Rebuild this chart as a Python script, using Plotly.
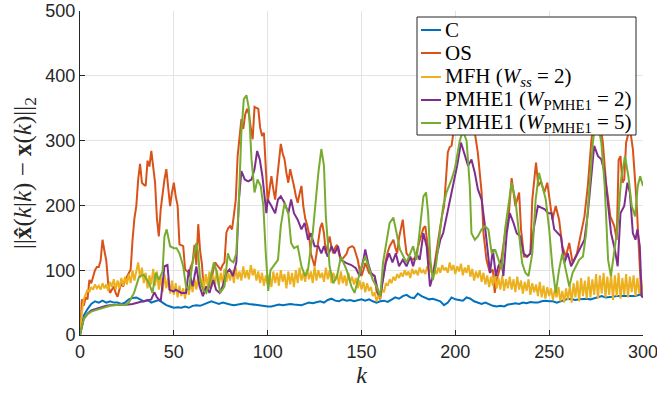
import plotly.graph_objects as go

# ---------------- data ----------------
c_k = list(range(0, 301, 2))
c_v = [0, 30, 40, 48, 52, 50, 53, 50, 52, 50, 50, 48, 50, 55, 57, 58, 55, 52, 54, 50,
       52, 54, 50, 46, 44, 42, 43, 42, 44, 42, 45, 46, 45, 47, 50, 52, 50, 48, 50, 48,
       47, 46, 47, 48, 49, 48, 47, 47, 46, 45, 44, 44, 46, 47, 46, 47, 48, 47, 47, 46,
       48, 50, 49, 50, 52, 50, 54, 56, 53, 52, 55, 53, 54, 52, 54, 55, 53, 55, 52, 50,
       52, 53, 51, 55, 58, 56, 60, 62, 58, 57, 64, 60, 58, 55, 56, 54, 52, 46, 50, 58,
       55, 54, 53, 58, 56, 52, 50, 48, 50, 47, 45, 44, 45, 44, 47, 48, 49, 48, 50, 49,
       51, 50, 50, 52, 53, 52, 52, 50, 52, 54, 56, 55, 54, 55, 56, 56, 55, 57, 58, 60,
       58, 58, 59, 60, 60, 60, 61, 60, 60, 62, 62]

os_k = [0, 1, 2, 3, 4, 5, 6, 7, 8, 9, 10, 11, 12, 13, 14, 15, 16, 17, 18, 19,
        20, 21, 22, 23, 24, 25, 26, 27, 28, 29, 30, 31, 32, 33, 34, 35, 36, 37, 38, 39,
        40, 41, 42, 43, 44, 45, 46, 47, 48, 49, 50, 51, 52, 53, 54, 55, 56, 57, 58, 59,
        60, 61, 62, 63, 64, 65, 66, 67, 68, 69, 70, 71, 72, 73, 74, 75, 76, 77, 78, 79,
        80, 81, 82, 83, 84, 85, 86, 87, 88, 89, 90, 91, 92, 93, 94, 95, 96, 97, 98, 99,
        100, 101, 102, 103, 104, 105, 106, 107, 108, 109, 110, 111, 112, 113, 114, 115, 116, 117, 118, 119,
        120, 121, 122, 123, 124, 125, 126, 127, 128, 129, 130, 131, 132, 133, 134, 135, 136, 137, 138, 139,
        140, 141, 142, 143, 144, 145, 146, 147, 148, 149, 150, 151, 152, 153, 154, 155, 156, 157, 158, 159,
        160, 161, 162, 163, 164, 165, 166, 167, 168, 169, 170, 171, 172, 173, 174, 175, 176, 177, 178, 179,
        180, 181, 182, 183, 184, 185, 186, 187, 188, 189, 190, 191, 192, 193, 194, 195, 196, 197, 198, 199,
        200, 202, 204, 206, 208, 210, 212, 214, 215, 216.6, 218.4, 220, 221, 222, 224, 226.5, 228.4, 230, 232, 234,
        235, 236.6, 238.4, 240, 241, 243, 244.2, 245.6, 247.4, 249, 250.5, 251.7, 253.5, 255.3, 257, 258.9, 260.7, 262.5, 264.8, 267,
        268.8, 270.6, 272.4, 274, 276, 278.6, 280.3, 282.6, 284.7, 286, 287, 288, 289, 290, 291, 293, 294.6, 296.5, 298.3, 299, 300]
os_v = [0, 55, 45, 58, 55, 85, 80, 90, 100, 105, 105, 115, 147, 130, 115, 80, 65, 70, 75, 65,
        59, 70, 80, 75, 85, 90, 95, 101, 147, 180, 199, 240, 264, 235, 232, 230, 269, 260, 284, 260,
        235, 180, 152, 194, 220, 240, 256, 230, 199, 220, 235, 214, 200, 140, 138, 137, 101, 98, 96, 105,
        112, 139, 108, 171, 130, 109, 65, 68, 70, 75, 85, 100, 112, 108, 104, 101, 108, 112, 158, 165,
        168, 163, 185, 209, 276, 300, 333, 318, 340, 349, 341, 320, 302, 352, 350, 349, 320, 307, 312, 250,
        204, 225, 245, 225, 209, 240, 270, 295, 280, 271, 250, 235, 256, 245, 230, 215, 204, 218, 230, 199,
        180, 170, 157, 126, 115, 106, 125, 147, 165, 173, 157, 126, 140, 152, 135, 126, 135, 139, 125, 116,
        118, 121, 125, 134, 136, 137, 135, 125, 116, 100, 91, 100, 111, 104, 96, 94, 92, 91, 68, 60,
        55, 80, 100, 116, 128, 137, 142, 147, 135, 126, 150, 163, 178, 150, 126, 122, 119, 116, 118, 121,
        135, 145, 157, 165, 168, 140, 120, 100, 91, 110, 132, 150, 168, 185, 199, 240, 282, 290, 292, 313,
        349, 380, 400, 390, 360, 320, 281, 220, 157, 116, 96, 101, 65, 85, 106, 157, 183, 242, 199, 220,
        163, 121, 121, 126, 209, 266, 230, 237, 220, 235, 204, 178, 199, 178, 137, 121, 142, 111, 126, 157,
        183, 230, 297, 340, 350, 297, 235, 183, 168, 147, 270, 276, 235, 240, 297, 320, 287, 209, 106, 65, 60]

mfh_v = [0, 35, 55, 62, 70, 66, 74, 70, 78, 72,
         76, 70, 80, 72, 78, 68, 82, 74, 86, 70,
         84, 72, 88, 76, 90, 78, 94, 80, 100, 84,
         96, 112, 88, 104, 80, 96, 72, 92, 78, 102,
         76, 98, 70, 90, 66, 94, 72, 88, 64, 84,
         62, 80, 58, 76, 60, 72, 56, 78, 62, 82,
         66, 86, 70, 92, 74, 88, 70, 94, 76, 98,
         74, 92, 78, 100, 76, 96, 80, 102, 82, 96,
         84, 100, 80, 104, 86, 98, 84, 106, 88, 100,
         86, 108, 92, 102, 84, 98, 80, 96, 76, 92,
         78, 94, 74, 98, 80, 96, 76, 100, 82, 94,
         72, 98, 78, 96, 74, 100, 80, 104, 84, 96,
         82, 102, 86, 98, 80, 106, 84, 100, 88, 96,
         82, 104, 86, 100, 80, 96, 84, 94, 78, 98,
         80, 92, 76, 96, 82, 90, 78, 88, 72, 84,
         70, 82, 66, 80, 68, 74, 60, 66, 52, 60,
         58, 70, 66, 80, 76, 86, 80, 90, 84, 94,
         88, 96, 90, 100, 92, 98, 88, 102, 94, 100,
         92, 104, 96, 100, 94, 106, 98, 102, 92, 100,
         94, 104, 96, 108, 100, 104, 96, 112, 100, 108,
         94, 106, 98, 110, 92, 104, 96, 108, 90, 102,
         84, 98, 88, 100, 82, 96, 78, 92, 74, 90,
         76, 94, 72, 88, 70, 92, 68, 86, 72, 90,
         70, 86, 66, 90, 70, 84, 64, 82, 68, 86,
         62, 80, 66, 78, 60, 82, 58, 76, 56, 74,
         60, 72, 54, 70, 58, 74, 52, 68, 50, 72,
         54, 76, 50, 80, 58, 84, 52, 88, 60, 84,
         56, 90, 58, 86, 62, 94, 56, 92, 64, 96,
         58, 90, 62, 94, 54, 92, 60, 96, 56, 88,
         62, 94, 58, 90, 66, 92, 60, 88, 64, 86,
         60]
mfh_k = list(range(0, 301))

pm2_k = [0, 2, 4, 6, 8, 10, 12, 14, 16, 18, 20, 22, 24, 26, 28, 30, 32, 34, 36, 38,
         39.6, 41, 43, 45, 46.6, 47.7, 49.8, 51, 54, 56.5, 58, 60, 62, 63.7, 65.5, 67.3, 69, 71, 72.5, 74.4,
         76, 78, 79.7, 81.5, 83.3, 84.7, 86, 87.8, 89.6, 91.4, 93, 94.4, 95.8, 97.2, 99.3, 100, 102, 104, 105.5, 107,
         109, 111, 112.5, 114, 116, 118, 119.7, 121.5, 123, 125, 127, 128.6, 130, 132, 134, 135.7, 137.5, 139, 142, 144.6,
         147, 149, 151, 152, 153.5, 155, 157, 159, 160, 161.5, 163, 164.7, 166.5, 168.3, 170, 172, 174, 176, 177.5, 179.3,
         181, 183, 184.7, 186.5, 188, 190, 192, 193.5, 195.3, 197, 198.8, 201, 203, 205, 206.8, 208.6, 210.4, 212, 214, 215.8,
         217.6, 218.5, 220, 221.6, 222.9, 224.7, 225.6, 227.4, 229, 231, 232.7, 234.6, 236.4, 238.2, 240, 242, 244, 246, 247.7, 249.5,
         251.3, 252.7, 254.5, 256.3, 258, 259.9, 261.7, 263.5, 265.3, 267, 268.8, 270.6, 272.4, 274, 276, 277.8, 279.6, 281.4, 283, 285,
         286.5, 288, 290, 291.7, 293, 294.6, 296, 297, 298.3, 299.3, 300]
pm2_v = [0, 25, 33, 38, 40, 42, 44, 45, 46, 46, 47, 47, 46, 47, 48, 50, 51, 52, 53, 55,
         66, 58, 52, 106, 108, 70, 67, 70, 65, 65, 101, 75, 106, 75, 60, 75, 65, 85, 70, 65,
         75, 96, 101, 91, 112, 209, 253, 240, 237, 240, 256, 284, 271, 245, 188, 209, 199, 188, 209, 214,
         204, 188, 209, 188, 178, 163, 173, 147, 157, 137, 137, 126, 137, 121, 137, 126, 137, 116, 111, 108,
         103, 91, 116, 132, 111, 96, 91, 65, 60, 85, 112, 126, 112, 126, 106, 116, 106, 121, 106, 126,
         116, 157, 137, 75, 91, 121, 147, 157, 183, 209, 230, 262, 297, 276, 261, 271, 250, 225, 209, 168,
         126, 96, 132, 91, 106, 116, 91, 157, 188, 173, 157, 152, 126, 121, 126, 168, 199, 196, 194, 188,
         188, 163, 157, 152, 111, 126, 106, 116, 126, 137, 147, 188, 240, 292, 276, 271, 250, 199, 157, 132,
         106, 188, 199, 235, 220, 157, 147, 163, 137, 60, 58]

pm5_k = [0, 2, 4, 6, 8, 10, 12, 14, 16, 18, 20, 22, 24, 26, 28.8, 31.5, 34, 36.8, 38.6, 40.4,
         42, 44, 45, 46.2, 48, 50, 51.5, 53, 55, 56.5, 58, 60, 62, 63, 64, 65.5, 67.3, 69, 71.3, 72.5,
         74.7, 77, 78.8, 80, 81.8, 83.3, 84.7, 86, 87.3, 88.7, 90, 91.4, 93, 94.6, 96.3, 97.7, 99, 100.3, 101.5, 103.6,
         105.5, 107, 109, 111, 112.5, 114, 116, 118, 120, 121.5, 124, 127, 128.6, 130, 131, 133, 135, 137, 139, 142,
         144.6, 146.3, 148, 150, 152, 154, 156, 158, 160, 161.5, 163.3, 165, 167, 168.8, 170.5, 172.4, 174, 176, 177.5, 179.3,
         181, 183, 184.4, 185.5, 186.7, 188, 189.6, 191.7, 193.5, 195.3, 198, 199.7, 202.4, 204, 206, 207.7, 208.6, 210.4, 212, 214,
         215.8, 217.6, 219.4, 221.2, 223, 224.7, 226.5, 228.4, 230, 232, 233.8, 235.6, 237.3, 239, 241, 242.8, 244.6, 246.4, 248.2, 250,
         251.7, 253.5, 255.3, 257, 259, 260.7, 262.5, 264.3, 266, 268, 269.7, 271.5, 273.3, 275, 277.8, 279.6, 281.4, 282.9, 284.6, 286.5,
         288.3, 290.4, 292.2, 294, 295.8, 297.2, 298.5, 300]
pm5_v = [0, 25, 32, 36, 38, 40, 42, 44, 45, 46, 47, 47, 46, 50, 65, 90, 93, 80, 65, 96,
         85, 98, 152, 163, 137, 134, 134, 126, 106, 75, 70, 112, 142, 126, 85, 70, 65, 80, 112, 101,
         65, 75, 126, 116, 112, 126, 209, 313, 364, 370, 349, 271, 220, 240, 230, 199, 126, 68, 100, 108,
         116, 168, 204, 188, 142, 134, 137, 106, 91, 101, 157, 250, 287, 261, 183, 106, 80, 91, 121, 101,
         75, 65, 85, 106, 121, 101, 85, 75, 60, 112, 147, 173, 181, 157, 132, 121, 112, 126, 137, 116,
         163, 214, 220, 188, 116, 85, 106, 157, 199, 220, 240, 256, 300, 315, 300, 230, 157, 147, 152, 163,
         168, 163, 126, 132, 116, 101, 163, 199, 235, 209, 157, 111, 96, 91, 126, 209, 250, 230, 209, 163,
         106, 65, 101, 126, 96, 75, 96, 106, 116, 121, 157, 230, 297, 340, 297, 230, 116, 91, 126, 168,
         240, 276, 245, 199, 183, 230, 245, 230]

names = ["C", "OS", "MFH (<i>W</i><sub><i>ss</i></sub> = 2)",
         "PMHE1 (<i>W</i><sub>PMHE1</sub> = 2)", "PMHE1 (<i>W</i><sub>PMHE1</sub> = 5)"]
colors = ["#0072BD", "#D95319", "#EDB120", "#7E2F8E", "#77AC30"]

x_ticks = [0, 50, 100, 150, 200, 250, 300]
y_ticks = [0, 100, 200, 300, 400, 500]

# ---------------- figure ----------------
series = [(c_k, c_v), (os_k, os_v), (mfh_k, mfh_v), (pm2_k, pm2_v), (pm5_k, pm5_v)]
fig = go.Figure()
for (xs, ys), nm, col in zip(series, names, colors):
    fig.add_trace(go.Scatter(x=xs, y=ys, mode="lines", name=nm, showlegend=False,
                             line=dict(color=col, width=2)))

axis_common = dict(showgrid=True, gridcolor="#e3e3e3", gridwidth=1,
                   showline=True, linecolor="#262626", linewidth=1,
                   ticks="inside", ticklen=5, tickcolor="#262626",
                   tickfont=dict(family="Liberation Sans, Arial", size=18, color="#262626"),
                   zeroline=False, automargin=False, ticklabeloverflow="allow")

# ---- legend box drawn in paper coordinates (layout, not data) ----
W_PLOT, H_PLOT, L0, T0 = 563.0, 324.0, 80.0, 11.0
def px_x(p):
    return (p - L0) / W_PLOT
def px_y(p):
    return 1 - (p - T0) / H_PLOT

shapes = [dict(type="rect", xref="paper", yref="paper", layer="above",
               x0=px_x(417), x1=px_x(636), y0=px_y(135), y1=px_y(17),
               fillcolor="white", line=dict(color="#262626", width=1))]
annotations = []
row_y = [30, 53, 77, 100, 123]
for nm, col, ry in zip(names, colors, row_y):
    shapes.append(dict(type="line", xref="paper", yref="paper", layer="above",
                       x0=px_x(421), x1=px_x(441), y0=px_y(ry), y1=px_y(ry),
                       line=dict(color=col, width=2)))
    annotations.append(dict(text=nm, xref="paper", yref="paper", showarrow=False,
                            x=px_x(443), y=px_y(ry), xanchor="left", yanchor="middle",
                            font=dict(family="Liberation Serif, Times New Roman", size=21, color="black")))

fig.update_layout(
    width=657, height=395,
    margin=dict(l=80, r=14, t=11, b=60),
    paper_bgcolor="white", plot_bgcolor="white",
    xaxis=dict(range=[0, 300], tickvals=x_ticks, **axis_common,
               title=dict(text="<i>k</i>", standoff=4,
                          font=dict(family="Liberation Serif, Times New Roman", size=24, color="#262626"))),
    yaxis=dict(range=[0, 500], tickvals=y_ticks, **axis_common,
               title=dict(text="||<b>x̂</b>(<i>k</i>|<i>k</i>) − <b>x</b>(<i>k</i>)||<sub>2</sub>", standoff=6,
                          font=dict(family="Liberation Serif, Times New Roman", size=25, color="#262626"))),
    shapes=shapes,
    annotations=annotations,
    showlegend=False,
)

fig.write_html("out.html")
